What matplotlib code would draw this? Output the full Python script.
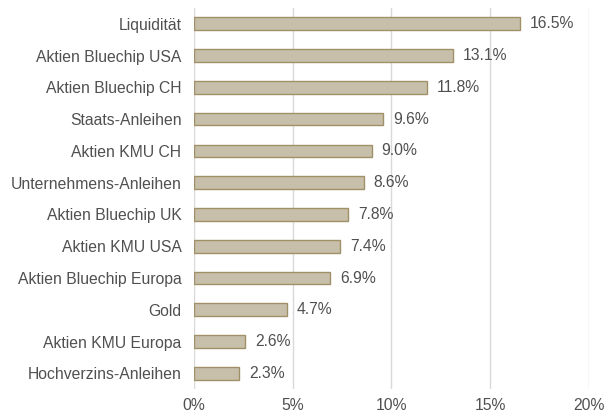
import matplotlib

matplotlib.use("Agg")
import matplotlib.pyplot as plt
from matplotlib.ticker import FuncFormatter

categories = [
    "Liquidität",
    "Aktien Bluechip USA",
    "Aktien Bluechip CH",
    "Staats-Anleihen",
    "Aktien KMU CH",
    "Unternehmens-Anleihen",
    "Aktien Bluechip UK",
    "Aktien KMU USA",
    "Aktien Bluechip Europa",
    "Gold",
    "Aktien KMU Europa",
    "Hochverzins-Anleihen",
]
weights = [16.5, 13.1, 11.8, 9.6, 9.0, 8.6, 7.8, 7.4, 6.9, 4.7, 2.6, 2.3]

plt.rcParams["font.family"] = ["Liberation Sans", "DejaVu Sans"]
text_color = "#505050"
fs = 11.3

fig = plt.figure(figsize=(6.04, 4.12), dpi=100)
ax = fig.add_axes([0.321, 0.055, 0.654, 0.926])

pos = list(range(len(categories)))
ax.barh(pos, weights, height=0.4, color="#c8bfaa", edgecolor="#a09068", linewidth=1.0, zorder=3)
for y, w in zip(pos, weights):
    ax.text(w + 0.5, y, f"{w:.1f}%", va="center", ha="left", fontsize=fs, color=text_color)

ax.set_yticks(pos)
ax.set_yticklabels(categories, fontsize=fs, color=text_color)
ax.set_ylim(len(categories) - 0.5, -0.5)
ax.set_xlim(0, 20)
ax.set_xticks([0, 5, 10, 15, 20])
ax.xaxis.set_major_formatter(FuncFormatter(lambda v, _: f"{v:.0f}%"))
ax.tick_params(axis="x", labelsize=fs, labelcolor=text_color, length=0, pad=6)
ax.tick_params(axis="y", length=0, pad=9)
ax.grid(axis="x", color="#d9d9d9", linewidth=1.0, zorder=0)
for s in ax.spines.values():
    s.set_visible(False)

fig.savefig("out.png", dpi=100)
